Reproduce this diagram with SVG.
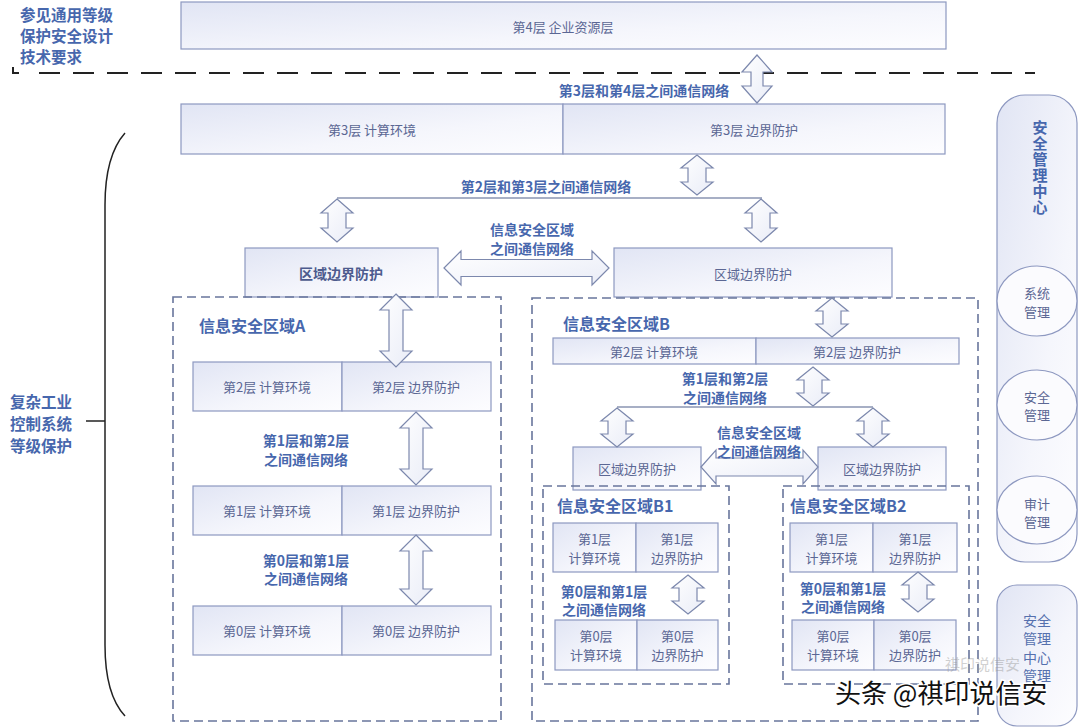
<svg xmlns="http://www.w3.org/2000/svg" width="1080" height="728" viewBox="0 0 1080 728">
<defs>
<linearGradient id="g" x1="0" y1="0" x2="1" y2="1"><stop offset="0" stop-color="#e1e5f4"/><stop offset="0.6" stop-color="#f5f6fc"/><stop offset="1" stop-color="#fdfdff"/></linearGradient>
<linearGradient id="ga" x1="0" y1="0" x2="1" y2="1"><stop offset="0" stop-color="#ffffff"/><stop offset="1" stop-color="#e9ecf7"/></linearGradient>
<style>
.box{fill:url(#g);stroke:#8d98c0;stroke-width:1.2}
.t{font-family:"Noto Sans CJK SC","Noto Sans",sans-serif;font-size:13px;fill:#5b6794;text-anchor:middle;dominant-baseline:central}
.b{font-family:"Noto Sans CJK SC","Noto Sans",sans-serif;font-weight:bold;font-size:14px;fill:#4767ad;text-anchor:middle;dominant-baseline:central}
.h{font-family:"Noto Sans CJK SC","Noto Sans",sans-serif;font-weight:bold;font-size:16px;fill:#4767ad;dominant-baseline:central}
.zone{fill:none;stroke:#68759c;stroke-width:1.6;stroke-dasharray:9 5}
.arr{fill:url(#ga);stroke:#7c88ad;stroke-width:1.2}
.net{stroke:#8a94b2;stroke-width:1.5;fill:none}
.blk{stroke:#222;fill:none}
</style>
</defs>
<rect width="1080" height="728" fill="#ffffff"/>

<g id="ref-note">
<text class="h" x="20" y="14" style="font-size:15.5px">参见通用等级</text>
<text class="h" x="20" y="35" style="font-size:15.5px">保护安全设计</text>
<text class="h" x="20" y="56" style="font-size:15.5px">技术要求</text>
<path class="blk" stroke-width="2" d="M13,67 V73 H19"/>
<path class="blk" stroke-width="2" stroke-dasharray="21 13" d="M39,73 H1035"/>
</g>

<g id="system-label">
<path class="blk" stroke-width="1.5" d="M125,133 C110,150 105,175 105,205 V645 C105,675 110,700 125,716"/>
<path class="blk" stroke-width="1.5" d="M86,421 H105"/>
<text class="h" x="10" y="401" style="font-size:15.5px">复杂工业</text>
<text class="h" x="10" y="423" style="font-size:15.5px">控制系统</text>
<text class="h" x="10" y="445" style="font-size:15.5px">等级保护</text>
</g>

<g id="layer4"><rect class="box" x="181" y="2" width="765" height="47"/><text class="t" x="563" y="26">第4层 企业资源层</text></g>

<g id="layer3-compute"><rect class="box" x="181" y="104" width="382" height="50"/><text class="t" x="372" y="129">第3层 计算环境</text></g>
<g id="layer3-boundary"><rect class="box" x="563" y="104" width="382" height="50"/><text class="t" x="754" y="129">第3层 边界防护</text></g>

<g id="boundary-a"><rect class="box" x="245" y="248" width="193" height="49"/><text class="b" x="341" y="273" style="fill:#4d5b8e">区域边界防护</text></g>
<g id="boundary-b"><rect class="box" x="614" y="248" width="278" height="49"/><text class="t" x="753" y="273">区域边界防护</text></g>

<g id="zone-a">
<rect class="zone" x="173" y="297" width="328" height="424"/>
<text class="h" x="199" y="325">信息安全区域A</text>
</g>
<g id="a-l2"><rect class="box" x="193" y="362" width="149" height="49"/><text class="t" x="267" y="386">第2层 计算环境</text><rect class="box" x="342" y="362" width="149" height="49"/><text class="t" x="416" y="386">第2层 边界防护</text></g>
<g id="a-l1"><rect class="box" x="193" y="486" width="149" height="49"/><text class="t" x="267" y="510">第1层 计算环境</text><rect class="box" x="342" y="486" width="149" height="49"/><text class="t" x="416" y="510">第1层 边界防护</text></g>
<g id="a-l0"><rect class="box" x="193" y="606" width="149" height="49"/><text class="t" x="267" y="630">第0层 计算环境</text><rect class="box" x="342" y="606" width="149" height="49"/><text class="t" x="416" y="630">第0层 边界防护</text></g>

<g id="zone-b">
<rect class="zone" x="532" y="298" width="446" height="423"/>
<text class="h" x="563" y="323">信息安全区域B</text>
</g>
<g id="b-l2"><rect class="box" x="553" y="338" width="203" height="26"/><text class="t" x="654" y="351">第2层 计算环境</text><rect class="box" x="756" y="338" width="203" height="26"/><text class="t" x="857" y="351">第2层 边界防护</text></g>

<g id="boundary-b1"><rect class="box" x="573" y="447" width="128" height="43"/><text class="t" x="637" y="468">区域边界防护</text></g>
<g id="boundary-b2"><rect class="box" x="818" y="447" width="128" height="43"/><text class="t" x="882" y="468">区域边界防护</text></g>

<g id="zone-b1">
<rect class="zone" x="543" y="486" width="186" height="198"/>
<text class="h" x="557" y="505">信息安全区域B1</text>
<rect class="box" x="553" y="523" width="83" height="49"/><text class="t" x="594.5" y="538">第1层</text><text class="t" x="594.5" y="557">计算环境</text>
<rect class="box" x="636" y="523" width="82" height="49"/><text class="t" x="677" y="538">第1层</text><text class="t" x="677" y="557">边界防护</text>
<rect class="box" x="555" y="620" width="82" height="50"/><text class="t" x="596" y="635">第0层</text><text class="t" x="596" y="654">计算环境</text>
<rect class="box" x="637" y="620" width="81" height="50"/><text class="t" x="677.5" y="635">第0层</text><text class="t" x="677.5" y="654">边界防护</text>
</g>

<g id="zone-b2">
<rect class="zone" x="783" y="486" width="186" height="198"/>
<text class="h" x="790" y="505">信息安全区域B2</text>
<rect class="box" x="790" y="523" width="83" height="49"/><text class="t" x="831.5" y="538">第1层</text><text class="t" x="831.5" y="557">计算环境</text>
<rect class="box" x="873" y="523" width="84" height="49"/><text class="t" x="915" y="538">第1层</text><text class="t" x="915" y="557">边界防护</text>
<rect class="box" x="792" y="620" width="82" height="50"/><text class="t" x="833" y="635">第0层</text><text class="t" x="833" y="654">计算环境</text>
<rect class="box" x="874" y="620" width="82" height="50"/><text class="t" x="915" y="635">第0层</text><text class="t" x="915" y="654">边界防护</text>
</g>

<g id="connectors">
<path class="net" d="M337,198 H762"/>
<path class="net" d="M617,407 H873"/>
<polygon class="arr" points="757,55 772,72 763,72 763,86 772,86 757,103 742,86 751,86 751,72 742,72"/>
<polygon class="arr" points="697,155 713,168 706,168 706,182 713,182 697,195 681,182 688,182 688,168 681,168"/>
<polygon class="arr" points="337,199 353,213 346,213 346,228 353,228 337,242 321,228 328,228 328,213 321,213"/>
<polygon class="arr" points="761,199 777,213 770,213 770,228 777,228 761,242 745,228 752,228 752,213 745,213"/>
<polygon class="arr" points="396,294 412,310 403,310 403,351 412,351 396,367 380,351 389,351 389,310 380,310"/>
<polygon class="arr" points="416,412 432,428 423,428 423,469 432,469 416,485 400,469 409,469 409,428 400,428"/>
<polygon class="arr" points="416,535 432,551 423,551 423,589 432,589 416,605 400,589 409,589 409,551 400,551"/>
<polygon class="arr" points="832,298 848,311 841,311 841,324 848,324 832,337 816,324 823,324 823,311 816,311"/>
<polygon class="arr" points="813,367 829,380 822,380 822,393 829,393 813,406 797,393 804,393 804,380 797,380"/>
<polygon class="arr" points="617,408 633,421 626,421 626,434 633,434 617,447 601,434 608,434 608,421 601,421"/>
<polygon class="arr" points="873,408 889,421 882,421 882,434 889,434 873,447 857,434 864,434 864,421 857,421"/>
<polygon class="arr" points="688,575 704,588 697,588 697,601 704,601 688,614 672,601 679,601 679,588 672,588"/>
<polygon class="arr" points="918,572 934,585 927,585 927,599 934,599 918,612 902,599 909,599 909,585 902,585"/>
<polygon class="arr" points="444,268 461,251 461,259.5 592,259.5 592,251 609,268 592,285 592,276.5 461,276.5 461,285"/>
<polygon class="arr" points="701,467 716,450 716,458 803,458 803,450 818,467 803,484 803,476 716,476 716,484"/>
</g>

<g id="labels">
<text class="b" x="644" y="90">第3层和第4层之间通信网络</text>
<text class="b" x="546" y="186">第2层和第3层之间通信网络</text>
<text class="b" x="532" y="229">信息安全区域</text>
<text class="b" x="532" y="248">之间通信网络</text>
<text class="b" x="306" y="440">第1层和第2层</text>
<text class="b" x="306" y="459">之间通信网络</text>
<text class="b" x="306" y="560">第0层和第1层</text>
<text class="b" x="306" y="578">之间通信网络</text>
<text class="b" x="725" y="378">第1层和第2层</text>
<text class="b" x="725" y="397">之间通信网络</text>
<text class="b" x="759" y="432">信息安全区域</text>
<text class="b" x="759" y="451">之间通信网络</text>
<text class="b" x="604" y="591">第0层和第1层</text>
<text class="b" x="604" y="609">之间通信网络</text>
<text class="b" x="843" y="588">第0层和第1层</text>
<text class="b" x="843" y="606">之间通信网络</text>
</g>

<g id="smc">
<rect class="box" x="997" y="95" width="80" height="467" rx="28"/>
<text x="1040" y="120" style="font-family:'Noto Sans CJK SC',sans-serif;font-weight:bold;font-size:15px;fill:#4767ad;writing-mode:vertical-rl;letter-spacing:1px">安全管理中心</text>
</g>
<g id="sys-mgmt"><ellipse cx="1037" cy="301" rx="40" ry="35" fill="#fbfbfe" stroke="#8d98c0" stroke-width="1.2"/><text class="t" x="1037" y="292">系统</text><text class="t" x="1037" y="311">管理</text></g>
<g id="sec-mgmt"><ellipse cx="1037" cy="405" rx="40" ry="35" fill="#fbfbfe" stroke="#8d98c0" stroke-width="1.2"/><text class="t" x="1037" y="396">安全</text><text class="t" x="1037" y="414">管理</text></g>
<g id="audit-mgmt"><ellipse cx="1037" cy="510" rx="40" ry="34" fill="#fbfbfe" stroke="#8d98c0" stroke-width="1.2"/><text class="t" x="1037" y="503">审计</text><text class="t" x="1037" y="521">管理</text></g>
<g id="smc-mgmt"><rect class="box" x="997" y="585" width="80" height="141" rx="20"/>
<text class="t" x="1037" y="620" style="font-size:14px;fill:#5570ae">安全</text>
<text class="t" x="1037" y="638" style="font-size:14px;fill:#5570ae">管理</text>
<text class="t" x="1037" y="657" style="font-size:14px;fill:#5570ae">中心</text>
<text class="t" x="1037" y="675" style="font-size:14px;fill:#5570ae">管理</text>
</g>

<g id="watermark">
<text x="945" y="663" style="font-family:'Noto Sans CJK SC',sans-serif;font-size:15px;fill:#9a9a9a;opacity:0.45;dominant-baseline:central">祺印说信安</text>
<text x="835" y="691" style="font-family:'Noto Sans CJK SC',sans-serif;font-size:26px;fill:#111;stroke:#fff;stroke-width:3;paint-order:stroke;dominant-baseline:central">头条 @祺印说信安</text>
</g>
</svg>
